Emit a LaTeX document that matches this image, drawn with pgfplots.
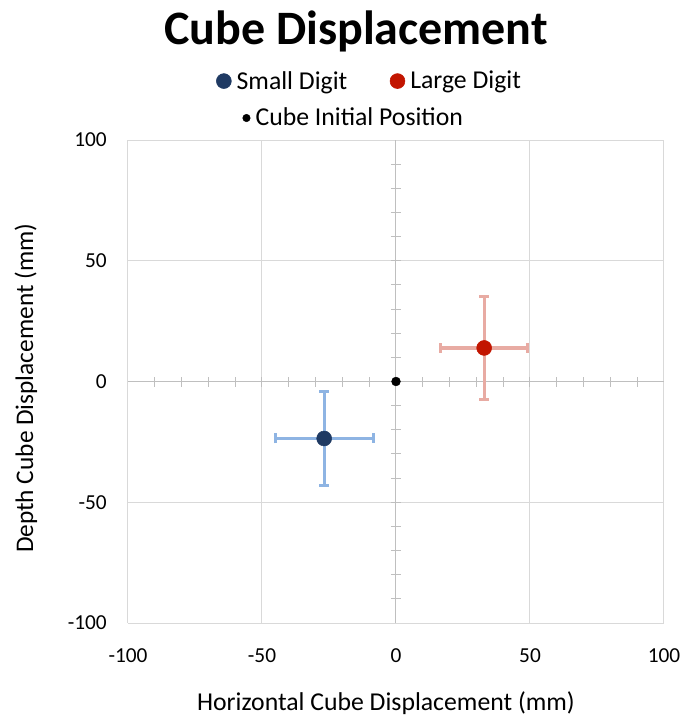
\documentclass[border=0pt]{standalone}
\usepackage{fontspec}
\setmainfont{Carlito}
\usepackage{pgfplots}
\pgfplotsset{compat=1.18}
\definecolor{navy}{HTML}{1F3A63}
\definecolor{lblue}{HTML}{8EB4E3}
\definecolor{dred}{HTML}{C21500}
\definecolor{lred}{HTML}{E8ABA3}
\definecolor{gridc}{HTML}{D9D9D9}
\definecolor{zeroc}{HTML}{BFBFBF}
\begin{document}
\begin{tikzpicture}
\begin{axis}[
  at={(0,0)}, anchor=south west,
  scale only axis, width=402pt, height=362.25pt,
  xmin=-100, xmax=100, ymin=-100, ymax=100,
  xtick={-100,-50,0,50,100}, ytick={-100,-50,0,50,100},
  axis line style={draw=none},
  tick style={draw=none},
  grid=major,
  major grid style={draw=gridc, line width=0.75pt},
  /pgf/number format/assume math mode=true,
  tick label style={font=\fontsize{16}{19}\selectfont, inner sep=0pt},
  xticklabel style={anchor=base, yshift=-29.8pt},
  yticklabel style={anchor=east, xshift=-15.75pt},
  legend columns=2,
  legend style={at={(0.4515,1.122)}, anchor=center, draw=none, fill=none,
    font=\fontsize{19.3}{22}\selectfont,
    /tikz/every odd column/.append style={column sep=2pt},
    /tikz/every even column/.append style={column sep=30pt}},
  clip=false,
]
\draw[zeroc, line width=0.75pt] (axis cs:-100,0) -- (axis cs:100,0);
\draw[zeroc, line width=0.75pt] (axis cs:0,-100) -- (axis cs:0,100);
\pgfplotsinvokeforeach{-90,-80,-70,-60,-50,-40,-30,-20,-10,10,20,30,40,50,60,70,80,90}{
  \draw[zeroc, line width=0.75pt] (axis cs:#1,0) ++(0pt,-3.75pt) -- ++(0pt,7.5pt);
  \draw[zeroc, line width=0.75pt] (axis cs:0,#1) ++(-3.75pt,0pt) -- ++(7.5pt,0pt);
}
\addplot[only marks, mark=*, mark size=5.6pt, color=navy,
  error bars/.cd, x dir=both, x explicit, y dir=both, y explicit,
  error bar style={line width=2.4pt, color=lblue},
  error mark options={rotate=90, line width=2.4pt, color=lblue, mark size=3.75pt}]
  coordinates {(-26.8,-23.6) +- (18.3,19.4)};
\addlegendentry{Small Digit}
\addplot[only marks, mark=*, mark size=5.6pt, color=dred,
  error bars/.cd, x dir=both, x explicit, y dir=both, y explicit,
  error bar style={line width=2.4pt, color=lred},
  error mark options={rotate=90, line width=2.4pt, color=lred, mark size=3.75pt}]
  coordinates {(32.9,13.9) +- (16.3,21.4)};
\addlegendentry{Large Digit}
\addplot[only marks, mark=*, mark size=3.3pt, color=black, forget plot]
  coordinates {(0,0)};
\end{axis}
\begin{axis}[
  at={(0,0)}, anchor=south west,
  scale only axis, width=402pt, height=362.25pt,
  xmin=-100, xmax=100, ymin=-100, ymax=100,
  hide axis,
  legend style={at={(0.422,1.0455)}, anchor=center, draw=none, fill=none,
    font=\fontsize{19.3}{22}\selectfont,
    /tikz/every odd column/.append style={column sep=2pt}},
]
\addlegendimage{only marks, mark=*, mark size=2.8pt, color=black}
\addlegendentry{Cube Initial Position}
\end{axis}
\node[font=\fontsize{36}{40}\selectfont\bfseries] at (171pt,444pt) {Cube Displacement};
\node[font=\fontsize{19.3}{22}\selectfont] at (193.5pt,-60pt) {Horizontal Cube Displacement (mm)};
\node[font=\fontsize{19}{22}\selectfont, rotate=90] at (-76.5pt,176pt) {Depth Cube Displacement (mm)};
\pgfresetboundingbox
\path[use as bounding box] (-96pt,-72pt) rectangle (422.25pt,467.25pt);
\end{tikzpicture}
\end{document}
